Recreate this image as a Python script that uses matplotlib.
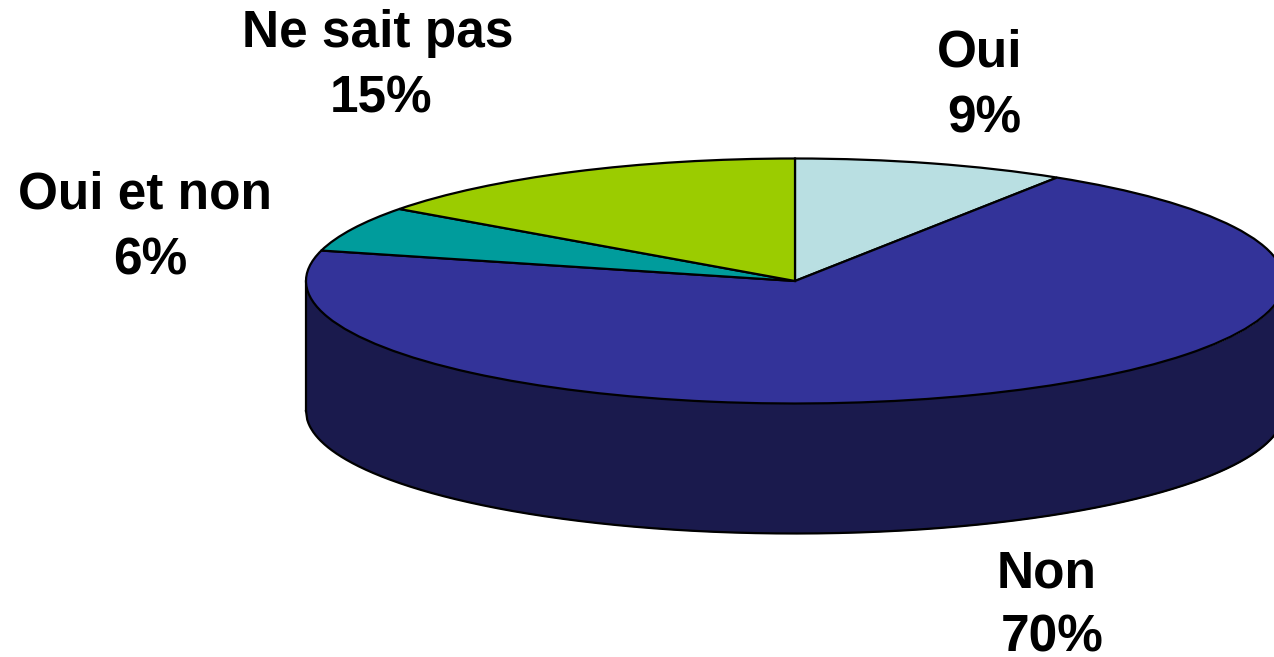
import numpy as np
import matplotlib.pyplot as plt

labels = ['Oui', 'Non', 'Oui et non', 'Ne sait pas']
values = [9, 70, 6, 15]
colors = ['#b9dfe2', '#333399', '#009c9c', '#9bcc00']
side_color = '#1a1a4d'

plt.rcParams['font.family'] = ['Liberation Sans', 'DejaVu Sans']

W, H = 1274, 657
cx, cy = 795, 281
rx, ry = 489, 122.5
depth = 130 / ry
line = 1.6

fig = plt.figure(figsize=(W / 100, H / 100), dpi=100)
ax = fig.add_axes([0, 0, 1, 1])

# side wall first, then the flat pie on top of it
ax.pie([1], colors=[side_color], center=(0, -depth), radius=1)
x = np.linspace(-1, 1, 800)
lower = -np.sqrt(1 - x**2)
ax.fill_between(x, lower, lower - depth, color=side_color, lw=0)
ax.plot(x, lower - depth, color='black', lw=line)
ax.plot([-1, -1], [0, -depth], color='black', lw=line)
ax.plot([1, 1], [0, -depth], color='black', lw=line)
ax.pie(values, colors=colors, startangle=90, counterclock=False, radius=1,
       wedgeprops={'edgecolor': 'black', 'linewidth': line, 'zorder': 3})

# pie() forces equal aspect, the ellipse comes from stretching the limits
ax.set_aspect('auto')
ax.set_xlim(-cx / rx, (W - cx) / rx)
ax.set_ylim((cy - H) / ry, cy / ry)
ax.axis('off')

# pixel centre x and baseline y of the name line and the percent line
name_pos = [(980, 67), (1047, 587), (145, 209), (378, 47)]
pct_pos = [(984, 133), (1052, 652), (150, 275), (381, 113)]


def put(px, py, s):
    ax.text((px - cx) / rx, (cy - py) / ry, s, ha='center', va='baseline',
            fontsize=37, fontweight='bold', color='black', zorder=5)


for name, val, p1, p2 in zip(labels, values, name_pos, pct_pos):
    put(p1[0], p1[1], name)
    put(p2[0], p2[1], f'{val}%')

fig.savefig('out.png', dpi=100)
